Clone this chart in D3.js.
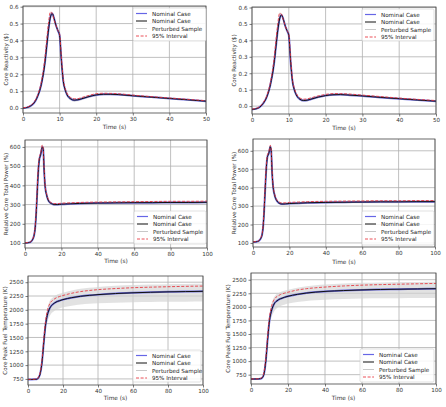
<!DOCTYPE html>
<html>
<head>
<meta charset="utf-8">
<script src="https://cdn.jsdelivr.net/npm/d3@7"></script>
<style>
  body { margin: 0; background: #fff; }
  svg { display: block; font-family: "DejaVu Sans", sans-serif; }
</style>
</head>
<body>
<div id="chart"></div>
<script>
// reactivity panels (time 0-50 s)
var tReact = [0,1,2,3,4,5,6,6.5,7,7.5,8,8.5,9,9.5,10,10.5,11,11.5,12,13,14,15,16,18,20,22,24,26,30,35,40,45,50];
var react1Nom = [0,0.003,0.012,0.03,0.07,0.14,0.27,0.37,0.47,0.54,0.56,0.53,0.49,0.46,0.43,0.28,0.16,0.11,0.08,0.055,0.047,0.049,0.055,0.068,0.078,0.082,0.082,0.08,0.073,0.065,0.057,0.049,0.041];
var react1Up  = [0.002,0.005,0.015,0.035,0.078,0.155,0.3,0.41,0.51,0.57,0.56,0.52,0.49,0.46,0.44,0.3,0.175,0.12,0.09,0.063,0.055,0.056,0.062,0.075,0.085,0.088,0.087,0.085,0.077,0.068,0.06,0.052,0.044];
var react1Lo  = [-0.002,0,0.008,0.024,0.062,0.125,0.245,0.34,0.44,0.52,0.545,0.52,0.48,0.45,0.42,0.26,0.145,0.1,0.07,0.045,0.038,0.04,0.047,0.06,0.07,0.075,0.076,0.074,0.068,0.06,0.053,0.046,0.038];
var react1Hi  = [0.002,0.006,0.017,0.037,0.08,0.158,0.305,0.41,0.51,0.57,0.565,0.535,0.495,0.465,0.44,0.3,0.175,0.12,0.09,0.065,0.057,0.058,0.064,0.077,0.087,0.09,0.089,0.087,0.079,0.07,0.062,0.053,0.045];

var react2Nom = [-0.02,-0.017,-0.008,0.015,0.055,0.13,0.26,0.36,0.46,0.53,0.555,0.53,0.49,0.46,0.43,0.27,0.15,0.1,0.07,0.042,0.034,0.036,0.042,0.055,0.064,0.069,0.07,0.068,0.062,0.053,0.045,0.037,0.03];
var react2Up  = [-0.018,-0.014,-0.004,0.02,0.063,0.145,0.29,0.4,0.5,0.565,0.56,0.525,0.49,0.46,0.44,0.29,0.165,0.11,0.08,0.05,0.042,0.044,0.05,0.062,0.071,0.076,0.076,0.074,0.067,0.058,0.049,0.041,0.034];
var react2Lo  = [-0.022,-0.02,-0.012,0.01,0.048,0.118,0.24,0.335,0.435,0.515,0.545,0.52,0.48,0.45,0.42,0.255,0.138,0.09,0.062,0.034,0.026,0.028,0.035,0.048,0.057,0.062,0.064,0.062,0.056,0.048,0.041,0.033,0.026];
var react2Hi  = [-0.018,-0.013,-0.003,0.021,0.065,0.148,0.295,0.405,0.505,0.57,0.565,0.535,0.495,0.465,0.44,0.29,0.165,0.112,0.08,0.052,0.044,0.046,0.052,0.064,0.073,0.078,0.078,0.076,0.069,0.06,0.051,0.042,0.035];

// power panels (time 0-100 s)
var tPower = [0,2,3,4,5,5.5,6,6.5,7,7.5,8,8.5,9,9.5,10,10.5,11,12,13,14,15,16,18,20,25,30,40,50,60,70,80,90,100];
var power1Nom = [100,102,105,115,140,170,230,320,420,500,540,555,580,600,590,480,400,345,318,308,303,300,300,302,304,306,308,309,310,310,311,311,312];
var power1Up  = [101,103,107,118,146,180,245,340,445,520,555,565,590,610,595,490,410,352,324,313,308,305,305,307,309,311,313,314,315,316,317,317,318];
var power1Lo  = [99,101,104,113,135,162,218,305,400,485,530,548,572,590,582,470,390,338,312,302,297,294,294,296,298,300,302,303,303,304,304,304,305];
var power1Hi  = [101,103,107,118,147,182,248,342,448,522,556,566,592,612,598,492,412,354,326,315,310,307,307,309,311,313,315,316,317,318,318,319,319];

var power2Nom = [105,107,110,120,145,180,250,350,450,530,570,580,600,622,600,480,410,355,330,318,313,311,312,314,316,318,320,321,322,323,323,324,324];
var power2Up  = [106,108,112,124,152,192,268,372,472,548,582,590,610,630,608,490,420,362,336,324,319,317,318,320,322,324,326,327,328,329,329,330,330];
var power2Lo  = [104,106,109,117,140,170,235,330,430,512,560,572,590,612,592,470,400,348,323,311,306,304,305,307,309,311,313,314,315,316,316,317,317];
var power2Hi  = [106,108,112,124,153,194,270,374,475,550,583,591,612,632,610,492,422,364,338,326,321,319,320,322,324,326,328,329,330,331,331,332,332];

// fuel temperature panels (time 0-100 s)
var tTemp = [0,2,4,5,6,7,8,9,10,11,12,13,14,15,16,18,20,25,30,35,40,50,60,70,80,90,100];
var temp1Nom = [740,740,742,745,770,850,1050,1400,1720,1900,2000,2060,2095,2120,2140,2165,2185,2220,2245,2262,2275,2295,2308,2318,2325,2330,2335];
var temp1Up  = [742,742,745,750,785,880,1100,1470,1790,1980,2080,2140,2170,2195,2215,2240,2260,2300,2330,2350,2365,2385,2400,2410,2418,2425,2430];
var temp1Lo  = [735,735,737,740,755,815,980,1300,1600,1770,1860,1920,1955,1980,2000,2025,2045,2075,2095,2108,2118,2130,2138,2143,2146,2148,2150];
var temp1Hi  = [745,745,748,755,795,900,1130,1500,1820,2020,2130,2190,2220,2245,2265,2290,2310,2350,2380,2400,2415,2435,2448,2456,2462,2466,2470];

var temp2Nom = [670,670,672,675,690,760,1000,1400,1750,1920,2020,2080,2110,2135,2150,2175,2195,2230,2255,2272,2285,2300,2312,2320,2325,2330,2335];
var temp2Up  = [672,672,675,680,705,795,1060,1470,1820,2000,2100,2160,2190,2210,2228,2252,2270,2310,2335,2352,2365,2385,2400,2410,2418,2425,2432];
var temp2Lo  = [665,665,667,670,680,730,940,1320,1640,1800,1880,1940,1975,2000,2018,2040,2060,2090,2110,2122,2132,2145,2152,2157,2160,2162,2165];
var temp2Hi  = [675,675,678,685,715,815,1090,1500,1850,2040,2150,2205,2235,2255,2272,2295,2315,2352,2378,2396,2410,2430,2442,2450,2456,2460,2464];

var ticksReact = [0,0.1,0.2,0.3,0.4,0.5,0.6];
var ticksPower = [100,200,300,400,500,600];
var ticksTemp = [750,1000,1250,1500,1750,2000,2250,2500];
var ticksT50 = [0,10,20,30,40,50];
var ticksT100 = [0,20,40,60,80,100];

var legendLabels = ["Nominal Case", "Nominal Case", "Perturbed Sample", "95% Interval"];

var panels = [
  {t: tReact, nom: react1Nom, up: react1Up, lo: react1Lo, hi: react1Hi,
   box: [23, 206, 6, 113], xDom: [0, 50], yDom: [-0.029, 0.604], xt: ticksT50, yt: ticksReact, fmt: ".1f",
   ylab: "Core Reactivity ($)", ylabX: 6, xlabY: 127, leg: [133, 8, 73, 33]},
  {t: tReact, nom: react2Nom, up: react2Up, lo: react2Lo, hi: react2Hi,
   box: [252, 436, 7, 114], xDom: [0, 50], yDom: [-0.048, 0.603], xt: ticksT50, yt: ticksReact, fmt: ".1f",
   ylab: "Core Reactivity ($)", ylabX: 234, xlabY: 128, leg: [362, 9, 72, 32]},
  {t: tPower, nom: power1Nom, up: power1Up, lo: power1Lo, hi: power1Hi,
   box: [25, 207, 140, 248], xDom: [0, 100], yDom: [74, 636], xt: ticksT100, yt: ticksPower, fmt: "d",
   ylab: "Relative Core Total Power (%)", ylabX: 6, xlabY: 261, leg: [134, 211, 72, 33]},
  {t: tPower, nom: power2Nom, up: power2Up, lo: power2Lo, hi: power2Hi,
   box: [253, 435, 139, 247], xDom: [0, 100], yDom: [78, 664], xt: ticksT100, yt: ticksPower, fmt: "d",
   ylab: "Relative Core Total Power (%)", ylabX: 234, xlabY: 262, leg: [362, 211, 72, 34]},
  {t: tTemp, nom: temp1Nom, up: temp1Up, lo: temp1Lo, hi: temp1Hi,
   box: [28, 203, 276, 385], xDom: [0, 100], yDom: [640, 2612], xt: ticksT100, yt: ticksTemp, fmt: "d",
   ylab: "Core Peak Fuel Temperature (K)", ylabX: 5, xlabY: 398, leg: [133, 350, 68, 32]},
  {t: tTemp, nom: temp2Nom, up: temp2Up, lo: temp2Lo, hi: temp2Hi,
   box: [251, 436, 273, 384], xDom: [0, 100], yDom: [578, 2624], xt: ticksT100, yt: ticksTemp, fmt: "d",
   ylab: "Core Peak Fuel Temperature (K)", ylabX: 228, xlabY: 398, leg: [360, 349, 74, 33]}
];

var svg = d3.select("#chart").append("svg")
  .attr("width", 446)
  .attr("height", 407);

panels.forEach(function(p) {
  var x = d3.scaleLinear().domain(p.xDom).range([p.box[0], p.box[1]]);
  var y = d3.scaleLinear().domain(p.yDom).range([p.box[3], p.box[2]]);
  var g = svg.append("g");
  var pts = p.t.map(function(t, i) { return i; });

  // grid
  g.append("g").selectAll("line").data(p.xt).enter().append("line")
    .attr("x1", d => x(d)).attr("x2", d => x(d))
    .attr("y1", p.box[2]).attr("y2", p.box[3])
    .attr("stroke", "#b0b0b0").attr("stroke-width", 0.8);
  g.append("g").selectAll("line").data(p.yt).enter().append("line")
    .attr("x1", p.box[0]).attr("x2", p.box[1])
    .attr("y1", d => y(d)).attr("y2", d => y(d))
    .attr("stroke", "#b0b0b0").attr("stroke-width", 0.8);

  // perturbed sample band
  var area = d3.area().curve(d3.curveMonotoneX)
    .x(i => x(p.t[i])).y0(i => y(p.lo[i])).y1(i => y(p.hi[i]));
  g.append("path").datum(pts).attr("d", area)
    .attr("fill", "#d2d2d2").attr("fill-opacity", 0.65);

  function line(arr) {
    return d3.line().curve(d3.curveMonotoneX).x(i => x(p.t[i])).y(i => y(arr[i]))(pts);
  }
  g.append("path").attr("d", line(p.nom)).attr("fill", "none")
    .attr("stroke", "#4040e0").attr("stroke-opacity", 0.7).attr("stroke-width", 2);
  g.append("path").attr("d", line(p.nom)).attr("fill", "none")
    .attr("stroke", "#111").attr("stroke-width", 1);
  g.append("path").attr("d", line(p.up)).attr("fill", "none")
    .attr("stroke", "#e8333b").attr("stroke-opacity", 0.85).attr("stroke-width", 1)
    .attr("stroke-dasharray", "3,1.6");

  // frame
  g.append("rect")
    .attr("x", p.box[0]).attr("y", p.box[2])
    .attr("width", p.box[1] - p.box[0]).attr("height", p.box[3] - p.box[2])
    .attr("fill", "none").attr("stroke", "#444").attr("stroke-width", 0.8);

  // axes
  var xa = g.append("g").attr("transform", "translate(0," + p.box[3] + ")")
    .call(d3.axisBottom(x).tickValues(p.xt).tickSize(2.5).tickPadding(2).tickFormat(d3.format("d")));
  var ya = g.append("g").attr("transform", "translate(" + p.box[0] + ",0)")
    .call(d3.axisLeft(y).tickValues(p.yt).tickSize(2.5).tickPadding(2).tickFormat(d3.format(p.fmt)));
  [xa, ya].forEach(function(a) {
    a.select(".domain").remove();
    a.selectAll("line").attr("stroke", "#444").attr("stroke-width", 0.7);
    a.selectAll("text").attr("font-size", 5.6).attr("fill", "#333").attr("font-family", "DejaVu Sans");
  });

  g.append("text")
    .attr("x", (p.box[0] + p.box[1]) / 2).attr("y", p.xlabY)
    .attr("text-anchor", "middle").attr("dominant-baseline", "central")
    .attr("font-size", 5.8).attr("fill", "#333").text("Time (s)");
  g.append("text")
    .attr("transform", "translate(" + p.ylabX + "," + ((p.box[2] + p.box[3]) / 2) + ") rotate(-90)")
    .attr("text-anchor", "middle").attr("dominant-baseline", "central")
    .attr("font-size", 5.6).attr("fill", "#333").text(p.ylab);

  // legend
  var lg = g.append("g").attr("transform", "translate(" + p.leg[0] + "," + p.leg[1] + ")");
  lg.append("rect").attr("width", p.leg[2]).attr("height", p.leg[3]).attr("rx", 1.5)
    .attr("fill", "#fff").attr("fill-opacity", 0.85).attr("stroke", "#ccc").attr("stroke-width", 0.6);
  var styles = [
    {c: "#4040e0", w: 1.2, o: 0.8, dash: null},
    {c: "#111", w: 1, o: 1, dash: null},
    {c: "#c8c8c8", w: 1, o: 1, dash: null},
    {c: "#e8333b", w: 1, o: 0.85, dash: "3,1.6"}
  ];
  legendLabels.forEach(function(lbl, i) {
    var cy = 5.5 + i * 7.5;
    lg.append("line").attr("x1", 3).attr("x2", 14).attr("y1", cy).attr("y2", cy)
      .attr("stroke", styles[i].c).attr("stroke-width", styles[i].w)
      .attr("stroke-opacity", styles[i].o).attr("stroke-dasharray", styles[i].dash);
    lg.append("text").attr("x", 19).attr("y", cy).attr("dominant-baseline", "central")
      .attr("font-size", 5.6).attr("fill", "#222").text(lbl);
  });
});
</script>
</body>
</html>
